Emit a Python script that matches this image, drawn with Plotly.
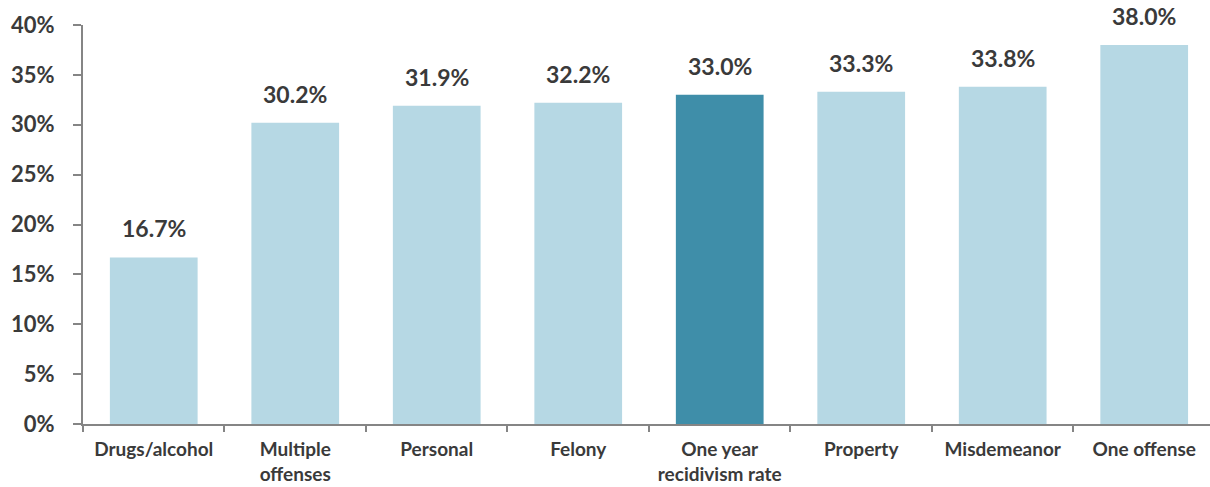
import plotly.graph_objects as go

categories = ["Drugs/alcohol", "Multiple<br>offenses", "Personal", "Felony",
              "One year<br>recidivism rate", "Property", "Misdemeanor", "One offense"]
values = [16.7, 30.2, 31.9, 32.2, 33.0, 33.3, 33.8, 38.0]
highlight = "One year<br>recidivism rate"

y_ticks = [0, 5, 10, 15, 20, 25, 30, 35, 40]
y_tick_labels = [f"{t}%" for t in y_ticks]

light = "#B6D8E4"
dark = "#3F8EA9"
text_col = "#3A3A3A"
axis_col = "#858585"
font_family = "Lato, 'Open Sans', sans-serif"

colors = [dark if c == highlight else light for c in categories]

fig = go.Figure()
fig.add_trace(go.Bar(
    x=categories, y=values, marker=dict(color=colors, line=dict(width=0)),
    width=0.62, hoverinfo="x+y",
))

for c, v in zip(categories, values):
    fig.add_annotation(x=c, y=v, text=f"{v:.1f}%", showarrow=False,
                       yanchor="bottom", yshift=13,
                       font=dict(family=font_family, size=23, color=text_col))

fig.update_layout(
    width=1210, height=487,
    margin=dict(l=83, r=0, t=25, b=63),
    paper_bgcolor="white", plot_bgcolor="white",
    showlegend=False,
    font=dict(family=font_family, color=text_col),
)
fig.update_xaxes(
    range=[-0.5, 7.465], showline=True, linecolor=axis_col, linewidth=2,
    ticks="outside", tickson="boundaries", ticklen=6, tickcolor=axis_col, tickwidth=2,
    tickfont=dict(family=font_family, size=19, color=text_col, weight="bold"),
    ticklabelstandoff=7, showgrid=False, zeroline=False, automargin=False,
)
fig.update_yaxes(
    range=[0, 40], tickvals=y_ticks, ticktext=y_tick_labels,
    showline=True, linecolor=axis_col, linewidth=2,
    ticks="outside", ticklen=8, tickcolor=axis_col, tickwidth=2,
    tickfont=dict(family=font_family, size=22, color=text_col, weight="bold"),
    ticklabelstandoff=14, showgrid=False, zeroline=False, automargin=False,
)
fig.update_annotations(font_weight="bold")

fig.write_html("out.html", config={"displayModeBar": False},
               post_script="document.body.style.margin='0';")
